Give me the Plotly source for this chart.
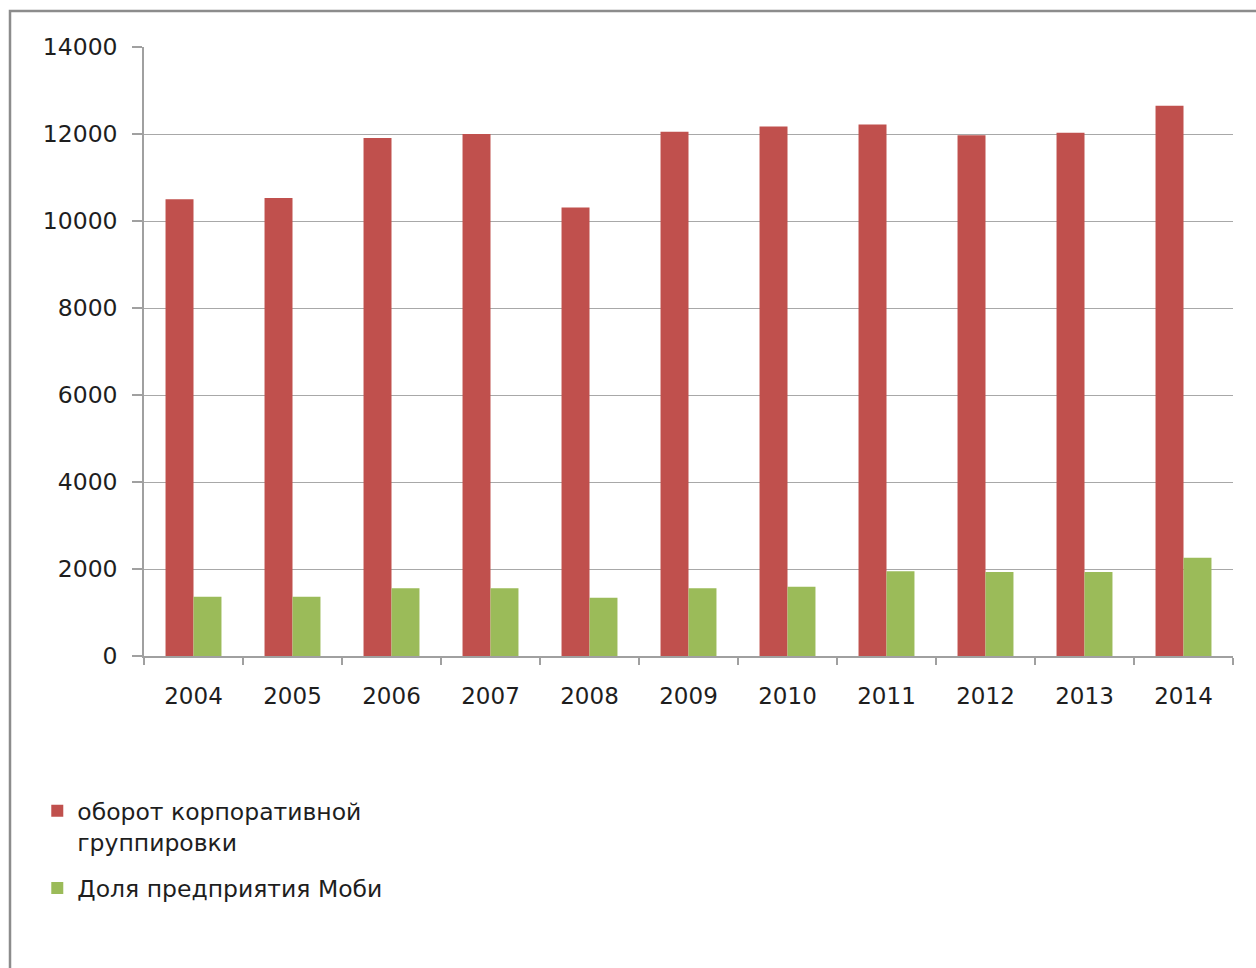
import plotly.graph_objects as go

years = ["2004", "2005", "2006", "2007", "2008", "2009", "2010", "2011", "2012", "2013", "2014"]
turnover = [10500, 10530, 11910, 12000, 10310, 12050, 12170, 12220, 11970, 12030, 12650]
mobi_share = [1360, 1360, 1560, 1560, 1340, 1560, 1590, 1950, 1930, 1930, 2260]
y_ticks = [0, 2000, 4000, 6000, 8000, 10000, 12000, 14000]

font_family = "DejaVu Sans, Verdana, sans-serif"
text_color = "#1e1e1e"

fig = go.Figure()
fig.add_trace(go.Bar(
    x=years, y=turnover, name="оборот корпоративной<br>группировки",
    legendgroup="turnover",
    marker=dict(color="#C0504D", line=dict(width=0)),
))
fig.add_trace(go.Bar(
    x=years, y=mobi_share, name="Доля предприятия Моби",
    legendgroup="share",
    marker=dict(color="#9BBB59", line=dict(width=0)),
))

fig.update_layout(
    width=1256, height=968,
    margin=dict(l=144, r=23, t=47, b=312),
    paper_bgcolor="white", plot_bgcolor="white",
    barmode="group", bargap=0.435, bargroupgap=0,
    font=dict(family=font_family, size=22, color=text_color),
    showlegend=True,
    legend=dict(
        x=-0.098, xanchor="left", y=-0.2185, yanchor="top",
        orientation="v", font=dict(size=23.5, color=text_color),
        valign="top", traceorder="grouped",
        itemwidth=30, tracegroupgap=13, bgcolor="rgba(0,0,0,0)",
    ),
    xaxis=dict(
        type="category", showgrid=False, showline=True, linecolor="#a0a0a0", linewidth=1.5,
        ticks="outside", tickson="boundaries", ticklen=7, tickcolor="#a0a0a0", tickwidth=1.5,
        ticklabelstandoff=19, tickfont=dict(size=23),
    ),
    yaxis=dict(
        range=[0, 14000], tickvals=y_ticks, ticktext=[str(v) for v in y_ticks],
        showgrid=True, gridcolor="#a8a8a8", gridwidth=1.2,
        showline=True, linecolor="#a0a0a0", linewidth=1.5,
        ticks="outside", ticklen=10, tickcolor="#a0a0a0", tickwidth=1.5,
        ticklabelstandoff=10, tickfont=dict(size=23.5), zeroline=False,
    ),
    shapes=[dict(
        type="rect", xref="paper", yref="paper",
        x0=(10 - 144) / 1089, x1=1.2, y0=-1.0, y1=(655.7 - 11) / 608.7,
        line=dict(color="#8c8c8c", width=2.5), fillcolor="rgba(0,0,0,0)", layer="below",
    )],
)

fig.write_html("out.html")
